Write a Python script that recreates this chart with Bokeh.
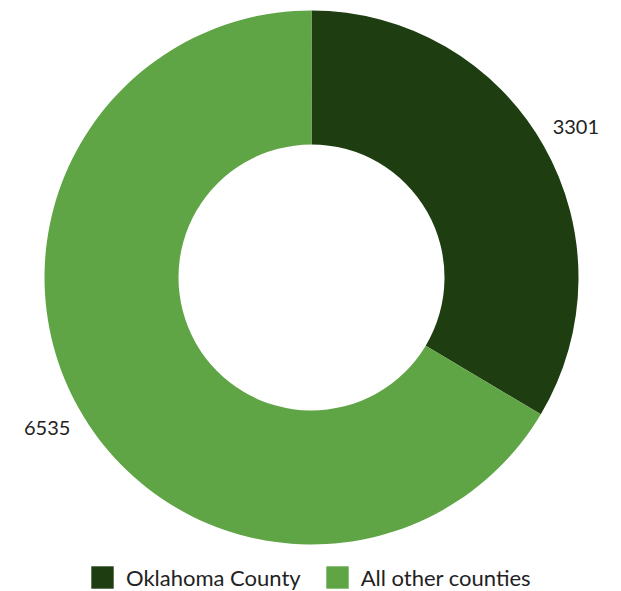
import numpy as np
from bokeh.plotting import figure
from bokeh.models import ColumnDataSource, Range1d, Legend, LegendItem
from bokeh.core.properties import value
from bokeh.embed import file_html
from bokeh.resources import INLINE

categories = ["Oklahoma County", "All other counties"]
counts = [3301, 6535]
colors = ["#1e3d11", "#5fa545"]

W, H = 621, 591
cx, cy = 311, H - 277
r_out, r_in, r_lab = 267, 133, 304

vals = np.array(counts, dtype=float)
frac = vals / vals.sum()
ends = np.pi / 2 - np.cumsum(frac) * 2 * np.pi
starts = np.concatenate([[np.pi / 2], ends[:-1]])
mids = (starts + ends) / 2

src = ColumnDataSource(dict(
    cat=categories, start=ends, end=starts, color=colors,
    lx=cx + r_lab * np.cos(mids), ly=cy + r_lab * np.sin(mids),
    lab=[str(c) for c in counts],
))

p = figure(width=W, height=H, output_backend="svg", toolbar_location=None,
           x_range=Range1d(0, W), y_range=Range1d(0, H), min_border=0,
           outline_line_color=None)
p.axis.visible = False
p.grid.visible = False

p.annular_wedge(x=cx, y=cy, inner_radius=r_in, outer_radius=r_out,
                start_angle="start", end_angle="end", color="color",
                line_color=None, source=src)

p.text(x="lx", y="ly", text="lab", source=src, text_align="center",
       text_baseline="middle", text_font=value("Lato"),
       text_font_size="20px", text_color="#222222")

# legend swatches (renderers with no visible points, used only for the legend)
items = []
for i, c in enumerate(categories):
    rr = p.rect(x=[np.nan], y=[np.nan], width=1, height=1,
                fill_color=colors[i], line_color=None)
    items.append(LegendItem(label=c, renderers=[rr], index=0))

legend = Legend(items=items, orientation="horizontal", location=(88, 0),
                glyph_width=28, glyph_height=28, label_height=28, label_standoff=10,
                spacing=22, label_text_font="Lato", label_text_font_size="22px",
                label_text_color="#222222", label_text_baseline="middle",
                border_line_alpha=0, background_fill_alpha=0, padding=0, margin=0)
p.add_layout(legend)

open("out.html", "w").write(file_html(p, INLINE))
